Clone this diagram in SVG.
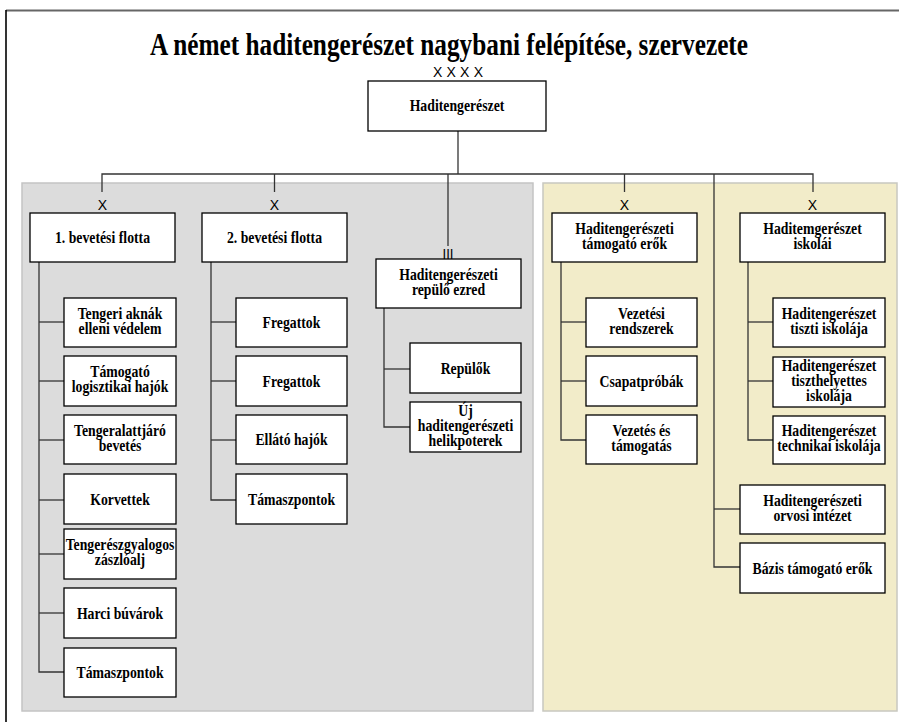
<svg xmlns="http://www.w3.org/2000/svg" width="899" height="722" viewBox="0 0 899 722">
<style>
.box{fill:#fff;stroke:#000;stroke-width:1.3}
.ln{stroke:#333;stroke-width:1.3;fill:none}
.t{font-family:"Liberation Serif","Times New Roman",serif;font-weight:bold;font-size:16px;text-anchor:middle;fill:#000}
.x{font-family:"Liberation Sans",Arial,sans-serif;font-size:14px;text-anchor:middle;fill:#000}
</style>
<rect width="899" height="722" fill="#fff"/>
<g id="frame">
<line x1="6" y1="10.5" x2="899" y2="10.5" stroke="#666" stroke-width="2"/>
<line x1="6" y1="10" x2="6" y2="722" stroke="#000" stroke-width="1.6"/>
</g>
<g id="panels">
<rect x="22" y="183" width="511" height="528" fill="#dcdcdc" stroke="#c4c4c4" stroke-width="1.5"/>
<rect x="543" y="183" width="354" height="528" fill="#f2ecc9" stroke="#c8c8c0" stroke-width="1.5"/>
</g>
<text id="title" x="449" y="55" font-family="Liberation Serif,'Times New Roman',serif" font-weight="bold" font-size="32" text-anchor="middle" textLength="598" lengthAdjust="spacingAndGlyphs">A német haditengerészet nagybani felépítése, szervezete</text>
<g id="connectors">
<polyline class="ln" points="458,131 458,174"/>
<polyline class="ln" points="102,192 102,174 813,174 813,192"/>
<polyline class="ln" points="274.5,174 274.5,192"/>
<polyline class="ln" points="448,174 448,246"/>
<polyline class="ln" points="624.5,174 624.5,192"/>
<polyline class="ln" points="714,174 714,567 740,567"/>
<line class="ln" x1="714" y1="509" x2="740" y2="509"/>
<polyline class="ln" points="39,262 39,672 64,672"/>
<line class="ln" x1="39" y1="322" x2="64" y2="322"/>
<line class="ln" x1="39" y1="381" x2="64" y2="381"/>
<line class="ln" x1="39" y1="440" x2="64" y2="440"/>
<line class="ln" x1="39" y1="500" x2="64" y2="500"/>
<line class="ln" x1="39" y1="554" x2="64" y2="554"/>
<line class="ln" x1="39" y1="613" x2="64" y2="613"/>
<polyline class="ln" points="211,262 211,500 236,500"/>
<line class="ln" x1="211" y1="322" x2="236" y2="322"/>
<line class="ln" x1="211" y1="381" x2="236" y2="381"/>
<line class="ln" x1="211" y1="440" x2="236" y2="440"/>
<polyline class="ln" points="384,308 384,427 410,427"/>
<line class="ln" x1="384" y1="369" x2="410" y2="369"/>
<polyline class="ln" points="561,262 561,440 586,440"/>
<line class="ln" x1="561" y1="322" x2="586" y2="322"/>
<line class="ln" x1="561" y1="381" x2="586" y2="381"/>
<polyline class="ln" points="748,262 748,440 773,440"/>
<line class="ln" x1="748" y1="322" x2="773" y2="322"/>
<line class="ln" x1="748" y1="381" x2="773" y2="381"/>
</g>
<g id="echelons">
<text class="x" x="458" y="77" textLength="50" lengthAdjust="spacing">X X X X</text>
<text class="x" x="102.5" y="210">X</text>
<text class="x" x="274.5" y="210">X</text>
<text class="x" x="624.5" y="210">X</text>
<text class="x" x="812.5" y="210">X</text>
<text class="x" x="448" y="259" textLength="11" lengthAdjust="spacingAndGlyphs">III</text>
</g>
<g id="n-root"><rect class="box" x="368" y="81" width="178" height="50"/><text class="t" transform="translate(457 0) scale(0.86 1)"><tspan x="0" y="111">Haditengerészet</tspan></text></g>
<g id="n-flotta1"><rect class="box" x="30" y="213" width="145" height="49"/><text class="t" transform="translate(102.5 0) scale(0.86 1)"><tspan x="0" y="243">1. bevetési flotta</tspan></text></g>
<g id="n-flotta2"><rect class="box" x="202" y="213" width="145" height="49"/><text class="t" transform="translate(274.5 0) scale(0.86 1)"><tspan x="0" y="243">2. bevetési flotta</tspan></text></g>
<g id="n-ezred"><rect class="box" x="376" y="259" width="145" height="49"/><text class="t" transform="translate(448.5 0) scale(0.86 1)"><tspan x="0" y="280">Haditengerészeti</tspan><tspan x="0" y="295">repülő ezred</tspan></text></g>
<g id="n-tamogato"><rect class="box" x="552" y="213" width="145" height="49"/><text class="t" transform="translate(624.5 0) scale(0.86 1)"><tspan x="0" y="234">Haditengerészeti</tspan><tspan x="0" y="249">támogató erők</tspan></text></g>
<g id="n-iskolai"><rect class="box" x="740" y="213" width="145" height="49"/><text class="t" transform="translate(812.5 0) scale(0.86 1)"><tspan x="0" y="234">Haditemgerészet</tspan><tspan x="0" y="249">iskolái</tspan></text></g>
<g id="n-aknak"><rect class="box" x="64" y="298" width="112" height="49"/><text class="t" transform="translate(120 0) scale(0.86 1)"><tspan x="0" y="319">Tengeri aknák</tspan><tspan x="0" y="334">elleni védelem</tspan></text></g>
<g id="n-logisztikai"><rect class="box" x="64" y="356" width="112" height="50"/><text class="t" transform="translate(120 0) scale(0.86 1)"><tspan x="0" y="377">Támogató</tspan><tspan x="0" y="392">logisztikai hajók</tspan></text></g>
<g id="n-tengeralattjaro"><rect class="box" x="64" y="415" width="112" height="49"/><text class="t" transform="translate(120 0) scale(0.86 1)"><tspan x="0" y="436">Tengeralattjáró</tspan><tspan x="0" y="451">bevetés</tspan></text></g>
<g id="n-korvettek"><rect class="box" x="64" y="474" width="112" height="50"/><text class="t" transform="translate(120 0) scale(0.86 1)"><tspan x="0" y="505">Korvettek</tspan></text></g>
<g id="n-tengereszgyalogos"><rect class="box" x="64" y="529" width="112" height="50"/><text class="t" transform="translate(120 0) scale(0.86 1)"><tspan x="0" y="550">Tengerészgyalogos</tspan><tspan x="0" y="565">zászlóalj</tspan></text></g>
<g id="n-buvarok"><rect class="box" x="64" y="588" width="112" height="50"/><text class="t" transform="translate(120 0) scale(0.86 1)"><tspan x="0" y="619">Harci búvárok</tspan></text></g>
<g id="n-tamaszpontok1"><rect class="box" x="64" y="648" width="112" height="49"/><text class="t" transform="translate(120 0) scale(0.86 1)"><tspan x="0" y="678">Támaszpontok</tspan></text></g>
<g id="n-fregattok1"><rect class="box" x="236" y="298" width="111" height="49"/><text class="t" transform="translate(291.5 0) scale(0.86 1)"><tspan x="0" y="328">Fregattok</tspan></text></g>
<g id="n-fregattok2"><rect class="box" x="236" y="356" width="111" height="50"/><text class="t" transform="translate(291.5 0) scale(0.86 1)"><tspan x="0" y="387">Fregattok</tspan></text></g>
<g id="n-ellato"><rect class="box" x="236" y="415" width="111" height="49"/><text class="t" transform="translate(291.5 0) scale(0.86 1)"><tspan x="0" y="445">Ellátó hajók</tspan></text></g>
<g id="n-tamaszpontok2"><rect class="box" x="236" y="474" width="111" height="50"/><text class="t" transform="translate(291.5 0) scale(0.86 1)"><tspan x="0" y="505">Támaszpontok</tspan></text></g>
<g id="n-repulok"><rect class="box" x="410" y="343" width="111" height="50"/><text class="t" transform="translate(465.5 0) scale(0.86 1)"><tspan x="0" y="374">Repülők</tspan></text></g>
<g id="n-helikopterek"><rect class="box" x="410" y="402" width="111" height="50"/><text class="t" transform="translate(465.5 0) scale(0.86 1)"><tspan x="0" y="416">Új</tspan><tspan x="0" y="431">haditengerészeti</tspan><tspan x="0" y="446">helikpoterek</tspan></text></g>
<g id="n-vezetesi"><rect class="box" x="586" y="298" width="111" height="49"/><text class="t" transform="translate(641.5 0) scale(0.86 1)"><tspan x="0" y="319">Vezetési</tspan><tspan x="0" y="334">rendszerek</tspan></text></g>
<g id="n-csapatprobak"><rect class="box" x="586" y="356" width="111" height="50"/><text class="t" transform="translate(641.5 0) scale(0.86 1)"><tspan x="0" y="387">Csapatpróbák</tspan></text></g>
<g id="n-vezetes"><rect class="box" x="586" y="415" width="111" height="49"/><text class="t" transform="translate(641.5 0) scale(0.86 1)"><tspan x="0" y="436">Vezetés és</tspan><tspan x="0" y="451">támogatás</tspan></text></g>
<g id="n-tiszti"><rect class="box" x="773" y="298" width="112" height="49"/><text class="t" transform="translate(829 0) scale(0.86 1)"><tspan x="0" y="319">Haditengerészet</tspan><tspan x="0" y="334">tiszti iskolája</tspan></text></g>
<g id="n-tiszthelyettes"><rect class="box" x="773" y="357" width="112" height="50"/><text class="t" transform="translate(829 0) scale(0.86 1)"><tspan x="0" y="371">Haditengerészet</tspan><tspan x="0" y="386">tiszthelyettes</tspan><tspan x="0" y="401">iskolája</tspan></text></g>
<g id="n-technikai"><rect class="box" x="773" y="416" width="112" height="48"/><text class="t" transform="translate(829 0) scale(0.86 1)"><tspan x="0" y="436">Haditengerészet</tspan><tspan x="0" y="451">technikai iskolája</tspan></text></g>
<g id="n-orvosi"><rect class="box" x="740" y="485" width="145" height="49"/><text class="t" transform="translate(812.5 0) scale(0.86 1)"><tspan x="0" y="506">Haditengerészeti</tspan><tspan x="0" y="521">orvosi intézet</tspan></text></g>
<g id="n-bazis"><rect class="box" x="740" y="543" width="145" height="50"/><text class="t" transform="translate(812.5 0) scale(0.86 1)"><tspan x="0" y="574">Bázis támogató erők</tspan></text></g>
</svg>
